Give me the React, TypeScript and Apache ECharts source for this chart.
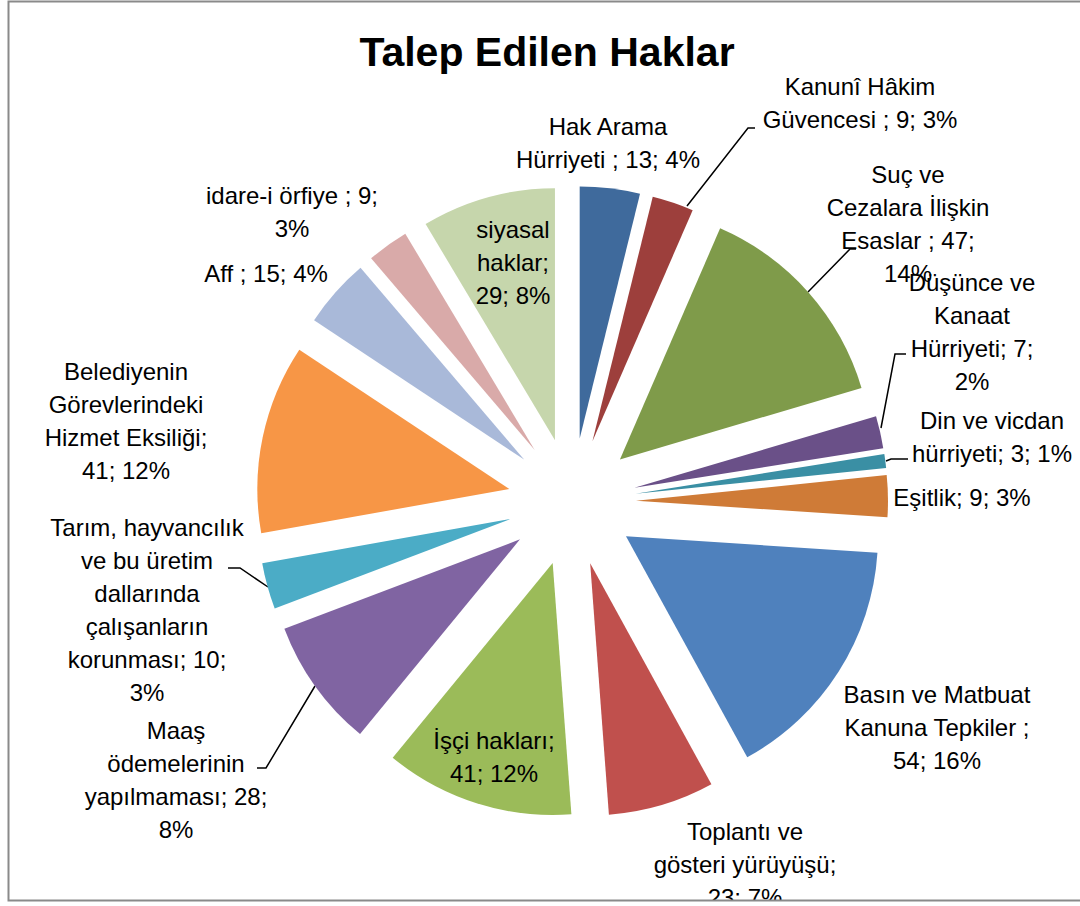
import React, { useEffect, useRef } from "react";
import * as echarts from "echarts";

const categories = [
  "Hak Arama Hürriyeti ",
  "Kanunî Hâkim Güvencesi ",
  "Suç ve Cezalara İlişkin Esaslar ",
  "Düşünce ve Kanaat Hürriyeti",
  "Din ve vicdan hürriyeti",
  "Eşitlik",
  "Basın ve Matbuat Kanuna Tepkiler ",
  "Toplantı ve gösteri yürüyüşü",
  "İşçi hakları",
  "Maaş ödemelerinin yapılmaması",
  "Tarım, hayvancılık ve bu üretim dallarında çalışanların korunması",
  "Belediyenin Görevlerindeki Hizmet Eksiliği",
  "Aff ",
  "idare-i örfiye ",
  "siyasal haklar",
];

const values = [13, 9, 47, 7, 3, 9, 54, 23, 41, 28, 10, 41, 15, 9, 29];

const colors = [
  "#3F6A9C", "#9D3F3C", "#7F9B4A", "#6A5088", "#3A8FA4", "#CF7B37",
  "#4F81BD", "#C0504D", "#9BBB59", "#8064A2", "#4BACC6", "#F79646",
  "#A9B9D9", "#D9AAA9", "#C6D6AC",
];

// number of words on each wrapped line of a label
const lineWords = [
  [2, 4], [2, 4], [2, 2, 3, 1], [2, 1, 2, 1], [3, 3], [3],
  [3, 3, 2], [2, 2, 2], [2, 2], [1, 1, 2, 1], [2, 3, 1, 1, 2, 1],
  [1, 1, 2, 2], [4], [4, 1], [1, 1, 2],
];

// label block centres (layout)
const labelPos = [
  [608, 143], [860, 103], [908, 224], [972, 332], [992, 437], [962, 497],
  [937, 727], [745, 864], [494, 757], [176, 780], [147, 610], [126, 421],
  [266, 273], [292, 212], [513, 262],
];

// leader lines (layout)
const leaders: Record<number, number[][]> = {
  1: [[687, 206], [748, 128], [755, 128]],
  2: [[808, 292], [850, 249], [856, 249]],
  3: [[881, 428], [895, 354], [906, 354]],
  4: [[886, 461], [891, 459], [908, 459]],
  9: [[315, 686], [266, 768], [257, 768]],
  10: [[268, 587], [240, 568], [228, 568]],
};

function wrap(text: string, counts: number[]) {
  const words = text.split(" ").filter((w) => w.length > 0);
  const lines: string[] = [];
  let i = 0;
  counts.forEach((c) => {
    lines.push(words.slice(i, i + c).join(" "));
    i += c;
  });
  if (i < words.length) lines.push(words.slice(i).join(" "));
  return lines.join("\n");
}

export default function App() {
  const ref = useRef<HTMLDivElement>(null);
  useEffect(() => {
    const chart = echarts.init(ref.current!, undefined, { renderer: "svg" });
    const sliceData = categories.map((name, i) => ({
      name,
      value: values[i],
      selected: true,
      itemStyle: { color: colors[i] },
    }));
    const labelData = categories.map((name, i) => ({
      name,
      value: values[i],
      labelLine: { show: leaders[i] !== undefined },
    }));
    const common = {
      type: "pie",
      center: [572, 502],
      radius: 252,
      startAngle: 90,
      clockwise: true,
      percentPrecision: 0,
      emphasis: { disabled: true },
    };
    chart.setOption({
      animation: false,
      backgroundColor: "#ffffff",
      title: {
        text: "Talep Edilen Haklar",
        left: 542,
        top: 26,
        textAlign: "center",
        textStyle: {
          fontFamily: "Liberation Sans",
          fontWeight: "bold",
          fontSize: 41,
          color: "#000000",
        },
      },
      graphic: [
        {
          type: "rect",
          z: 100,
          silent: true,
          shape: { x: 0, y: 901, width: 1080, height: 6 },
          style: { fill: "#ffffff" },
        },
        {
          type: "rect",
          z: 101,
          silent: true,
          shape: { x: 8.5, y: 1.5, width: 1100, height: 899 },
          style: { fill: "none", stroke: "#8a8a8a", lineWidth: 2 },
        },
      ],
      series: [
        {
          ...common,
          name: "slices",
          selectedMode: "multiple",
          selectedOffset: 64,
          itemStyle: { borderWidth: 0 },
          label: { show: false },
          labelLine: { show: false },
          data: sliceData,
        },
        {
          ...common,
          name: "labels",
          silent: true,
          selectedMode: false,
          avoidLabelOverlap: false,
          itemStyle: { color: "rgba(0,0,0,0)", borderWidth: 0 },
          label: {
            show: true,
            position: "outside",
            fontFamily: "Liberation Sans",
            fontSize: 24,
            lineHeight: 33,
            color: "#000000",
            align: "center",
            formatter: (p: any) =>
              wrap(`${p.name}; ${p.value}; ${p.percent}%`, lineWords[p.dataIndex]),
          },
          labelLine: {
            show: true,
            lineStyle: { color: "#000000", width: 1.5 },
          },
          labelLayout: (p: any) => {
            const i = p.dataIndex;
            const res: any = {
              x: labelPos[i][0],
              y: labelPos[i][1],
              align: "center",
              verticalAlign: "middle",
            };
            if (leaders[i]) res.labelLinePoints = leaders[i];
            return res;
          },
          data: labelData,
        },
      ],
    });
    return () => chart.dispose();
  }, []);
  return (
    <div
      ref={ref}
      style={{ position: "absolute", left: 0, top: 0, width: 1080, height: 906 }}
    />
  );
}
